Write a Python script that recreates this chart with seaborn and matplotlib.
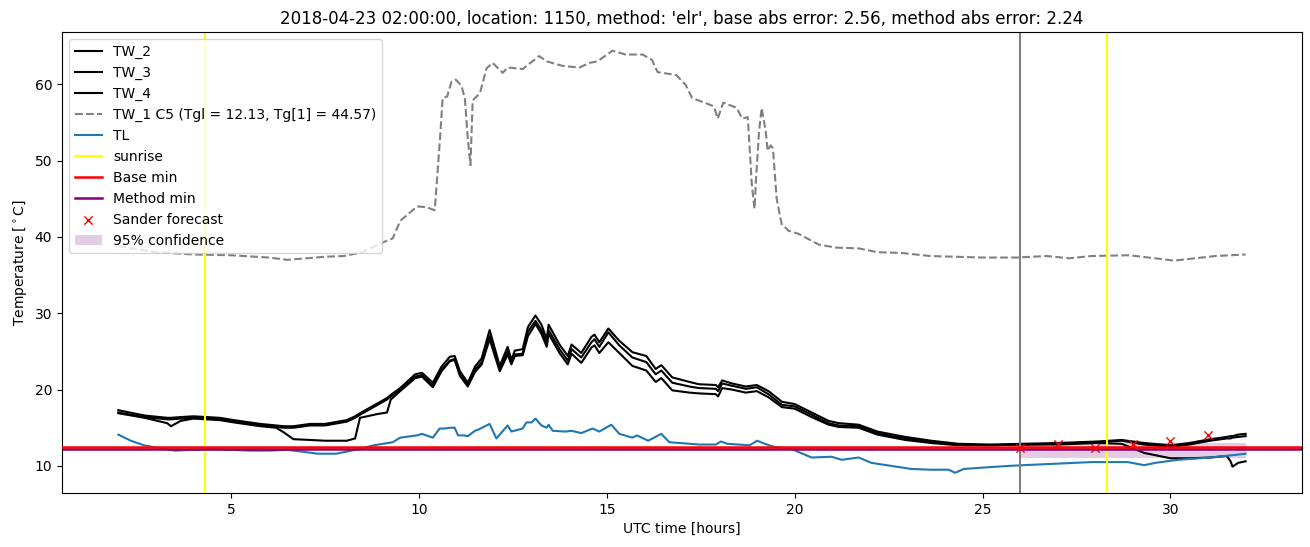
import matplotlib
matplotlib.use("Agg")
import matplotlib.pyplot as plt
import seaborn as sns

# ---------------- data ----------------
title = "2018-04-23 02:00:00, location: 1150, method: 'elr', base abs error: 2.56, method abs error: 2.24"

tw_hours = [2.0, 2.7, 3.3, 3.4, 3.66, 4.0, 4.7, 5.07, 5.78, 6.2,
            6.4, 6.66, 7.1, 7.5, 8.08, 8.3, 8.43, 8.9, 9.15, 9.25,
            9.5, 9.9, 10.08, 10.37, 10.6, 10.82, 10.95, 11.09, 11.3, 11.49,
            11.67, 11.88, 12.15, 12.36, 12.46, 12.55, 12.76, 12.9, 13.1, 13.26,
            13.4, 13.45, 13.74, 13.96, 14.06, 14.32, 14.59, 14.67, 14.8, 15.04,
            15.33, 15.68, 16.05, 16.3, 16.45, 16.74, 17.2, 17.45, 17.9, 17.96,
            18.07, 18.33, 18.7, 18.99, 19.3, 19.66, 20.0, 20.45, 20.9, 21.17,
            21.7, 22.2, 22.94, 23.63, 24.35, 25.2, 26.1, 27.0, 28.06, 28.7,
            29.3, 30.0, 30.5, 31.06, 31.5, 31.6, 31.65, 31.8, 32.0]

tw_2 = [17.3, 16.6, 16.3, 16.3, 16.4, 16.5, 16.3, 16.0, 15.5, 15.3,
        15.2, 15.2, 15.5, 15.5, 16.0, 16.5, 16.9, 18.2, 18.9, 19.3,
        20.2, 22.0, 22.2, 20.9, 23.0, 24.3, 24.4, 22.4, 20.9, 23.0,
        24.1, 27.8, 23.1, 25.6, 23.9, 25.1, 25.3, 28.2, 29.7, 28.5,
        26.6, 28.5, 25.9, 24.4, 25.9, 24.8, 26.9, 27.2, 26.2, 28.0,
        26.4, 24.9, 24.4, 22.7, 23.2, 21.6, 21.0, 20.7, 20.6, 20.3,
        21.2, 20.8, 20.4, 20.6, 19.8, 18.4, 18.1, 17.0, 15.9, 15.6,
        15.4, 14.5, 13.8, 13.3, 12.9, 12.8, 12.9, 13.0, 13.2, 13.4,
        13.0, 12.7, 13.0, 13.5, 13.8, 13.9, 13.9, 14.1, 14.2]

tw_3 = [17.0, 16.4, 16.1, 16.1, 16.2, 16.3, 16.1, 15.8, 15.3, 15.1,
        15.0, 15.0, 15.3, 15.3, 15.8, 16.3, 16.7, 18.0, 18.7, 19.1,
        20.0, 21.7, 21.9, 20.6, 22.6, 23.8, 24.0, 22.0, 20.6, 22.6,
        23.6, 27.0, 22.6, 25.0, 23.5, 24.6, 24.7, 27.6, 29.0, 27.8,
        26.0, 27.8, 25.3, 23.8, 25.3, 24.2, 26.2, 26.6, 25.6, 27.5,
        25.8, 24.2, 23.6, 22.0, 22.5, 20.9, 20.4, 20.2, 20.1, 19.8,
        20.8, 20.5, 20.1, 20.3, 19.4, 18.0, 17.8, 16.7, 15.6, 15.3,
        15.2, 14.3, 13.6, 13.1, 12.8, 12.7, 12.8, 12.9, 13.1, 13.3,
        12.8, 12.5, 12.8, 13.3, 13.6, 13.6, 13.7, 13.8, 13.9]

tw_4 = [16.9, 16.3, 15.6, 15.2, 15.9, 16.2, 16.0, 15.7, 15.2, 15.0,
        14.4, 13.5, 13.4, 13.3, 13.3, 13.6, 16.3, 16.8, 17.0, 18.7,
        19.8, 21.5, 21.7, 20.3, 22.4, 23.7, 23.9, 21.8, 20.4, 22.3,
        23.3, 26.6, 22.4, 24.6, 23.3, 24.4, 24.5, 27.0, 28.6, 27.3,
        25.6, 27.3, 24.8, 23.3, 24.7, 23.5, 25.5, 25.8, 24.8, 26.2,
        24.8, 23.1, 22.5, 21.0, 21.5, 19.9, 19.6, 19.5, 19.4, 19.1,
        20.2, 20.0, 19.6, 19.8, 19.0, 17.7, 17.5, 16.4, 15.4, 15.1,
        15.0, 14.1, 13.4, 13.0, 12.7, 12.7, 12.8, 12.8, 13.0, 12.9,
        11.7, 11.0, 11.0, 11.1, 11.3, 10.6, 9.9, 10.4, 10.6]

tw1_hours = [2.0, 3.0, 4.0, 5.0, 6.0, 6.5, 7.0, 7.5, 8.0, 8.5,
             9.0, 9.3, 9.5, 9.95, 10.2, 10.42, 10.56, 10.63, 10.75, 10.87,
             10.98, 11.13, 11.22, 11.3, 11.37, 11.43, 11.62, 11.8, 11.96, 12.23,
             12.36, 12.76, 13.2, 13.4, 13.83, 14.27, 14.54, 14.75, 15.15, 15.5,
             15.95, 16.2, 16.35, 16.85, 17.1, 17.27, 17.7, 17.85, 17.95, 18.1,
             18.46, 18.6, 18.75, 18.86, 18.93, 18.97, 19.05, 19.12, 19.23, 19.28,
             19.36, 19.42, 19.52, 19.65, 19.84, 20.1, 20.64, 21.1, 21.7, 22.2,
             22.84, 23.6, 25.0, 25.9, 26.7, 27.3, 27.9, 28.9, 30.1, 31.2,
             32.0]
tw_1 = [38.8, 38.0, 37.7, 37.6, 37.3, 37.0, 37.2, 37.4, 37.5, 38.0,
        39.2, 39.8, 42.1, 44.0, 43.9, 43.5, 52.9, 58.2, 58.4, 60.4,
        60.6, 59.8, 58.2, 52.9, 49.4, 57.9, 58.8, 62.1, 62.8, 61.5,
        62.2, 62.0, 63.7, 63.0, 62.4, 62.2, 62.8, 63.0, 64.4, 63.9,
        63.9, 63.2, 61.6, 61.2, 59.9, 58.2, 57.4, 57.1, 55.5, 57.6,
        56.9, 55.5, 55.7, 46.7, 43.7, 47.6, 53.8, 56.9, 53.8, 51.3,
        52.0, 51.6, 45.0, 41.7, 40.8, 40.4, 39.0, 38.6, 38.5, 38.0,
        37.9, 37.5, 37.3, 37.3, 37.5, 37.2, 37.5, 37.6, 36.9, 37.5,
        37.7]

tl_hours = [2.0, 2.33, 2.68, 3.13, 3.5, 4.0, 4.5, 5.0, 5.5, 6.0,
            6.5, 7.0, 7.3, 7.8, 8.4, 8.8, 9.3, 9.5, 9.95, 10.08,
            10.37, 10.55, 10.7, 10.82, 10.95, 11.04, 11.2, 11.3, 11.49, 11.6,
            11.88, 12.06, 12.36, 12.46, 12.76, 12.86, 13.0, 13.1, 13.26, 13.4,
            13.45, 13.56, 13.9, 14.06, 14.32, 14.62, 14.8, 15.12, 15.33, 15.68,
            15.8, 16.1, 16.45, 16.66, 17.2, 17.45, 17.9, 18.04, 18.2, 18.8,
            19.0, 19.2, 19.45, 19.92, 20.45, 20.98, 21.25, 21.7, 22.04, 22.57,
            23.1, 23.63, 24.1, 24.27, 24.5, 25.07, 25.7, 26.1, 27.0, 27.9,
            28.86, 29.3, 29.6, 30.2, 31.06, 31.83, 32.0]
tl = [14.1, 13.3, 12.7, 12.3, 12.0, 12.1, 12.2, 12.1, 12.0, 12.0,
      12.1, 11.8, 11.6, 11.6, 12.2, 12.7, 13.1, 13.7, 14.0, 14.2,
      13.7, 14.9, 14.9, 15.0, 15.0, 14.0, 14.0, 13.9, 14.6, 14.8,
      15.5, 13.6, 15.3, 14.5, 14.9, 15.7, 15.7, 16.2, 15.3, 15.0,
      15.4, 14.6, 14.5, 14.6, 14.3, 14.9, 14.5, 15.4, 14.2, 13.7,
      14.0, 13.3, 14.2, 13.1, 12.9, 12.8, 12.8, 13.2, 12.9, 12.7,
      13.3, 12.9, 12.5, 12.2, 11.1, 11.2, 10.8, 11.1, 10.4, 10.0,
      9.6, 9.5, 9.5, 9.1, 9.6, 9.8, 10.0, 10.1, 10.3, 10.5,
      10.5, 10.1, 10.4, 10.8, 11.1, 11.5, 11.6]

sunrise_hours = [4.3, 28.3]
forecast_time = 26.0
base_min = 12.45
method_min = 12.15

sander_hours = [26, 27, 28, 29, 30, 31]
sander_temp = [12.4, 12.85, 12.3, 12.85, 13.25, 14.1]

conf_hours = [26.0, 32.0]
conf_low = [11.1, 11.1]
conf_high = [13.05, 13.05]

tw1_label = "TW_1 C5 (Tgl = 12.13, Tg[1] = 44.57)"

# ---------------- plot ----------------
fig = plt.figure(figsize=(13.1, 5.47), dpi=100)
ax = fig.add_axes([62 / 1310, 1 - 493 / 547, (1302 - 62) / 1310, (493 - 32) / 547])

sns.lineplot(x=tw_hours, y=tw_2, ax=ax, color="black", label="TW_2", lw=1.5)
sns.lineplot(x=tw_hours, y=tw_3, ax=ax, color="black", label="TW_3", lw=1.5)
sns.lineplot(x=tw_hours, y=tw_4, ax=ax, color="black", label="TW_4", lw=1.5)
sns.lineplot(x=tw1_hours, y=tw_1, ax=ax, color="gray", linestyle="--", label=tw1_label, lw=1.5)
sns.lineplot(x=tl_hours, y=tl, ax=ax, color="#1f77b4", label="TL", lw=1.5)

for i, s in enumerate(sunrise_hours):
    ax.axvline(s, color="yellow", lw=1.5, label="sunrise" if i == 0 else None)
ax.axhline(base_min, color="red", lw=1.8, label="Base min", zorder=2.6)
ax.axhline(method_min, color="purple", lw=1.8, label="Method min", zorder=2.5)
ax.axvline(forecast_time, color="gray", lw=1.5)

sns.scatterplot(x=sander_hours, y=sander_temp, ax=ax, marker="x", color="red",
                s=36, linewidth=1.0, label="Sander forecast", zorder=3)
ax.fill_between(conf_hours, conf_low, conf_high, color="purple", alpha=0.2,
                lw=0, label="95% confidence")

ax.set_xlim(0.5, 33.5)
ax.set_ylim(6.45, 66.85)
ax.set_xlabel("UTC time [hours]")
ax.set_ylabel(r"Temperature [$^\circ$C]")
ax.set_title(title)
ax.legend(loc="upper left")

fig.savefig("out.png", dpi=100)
